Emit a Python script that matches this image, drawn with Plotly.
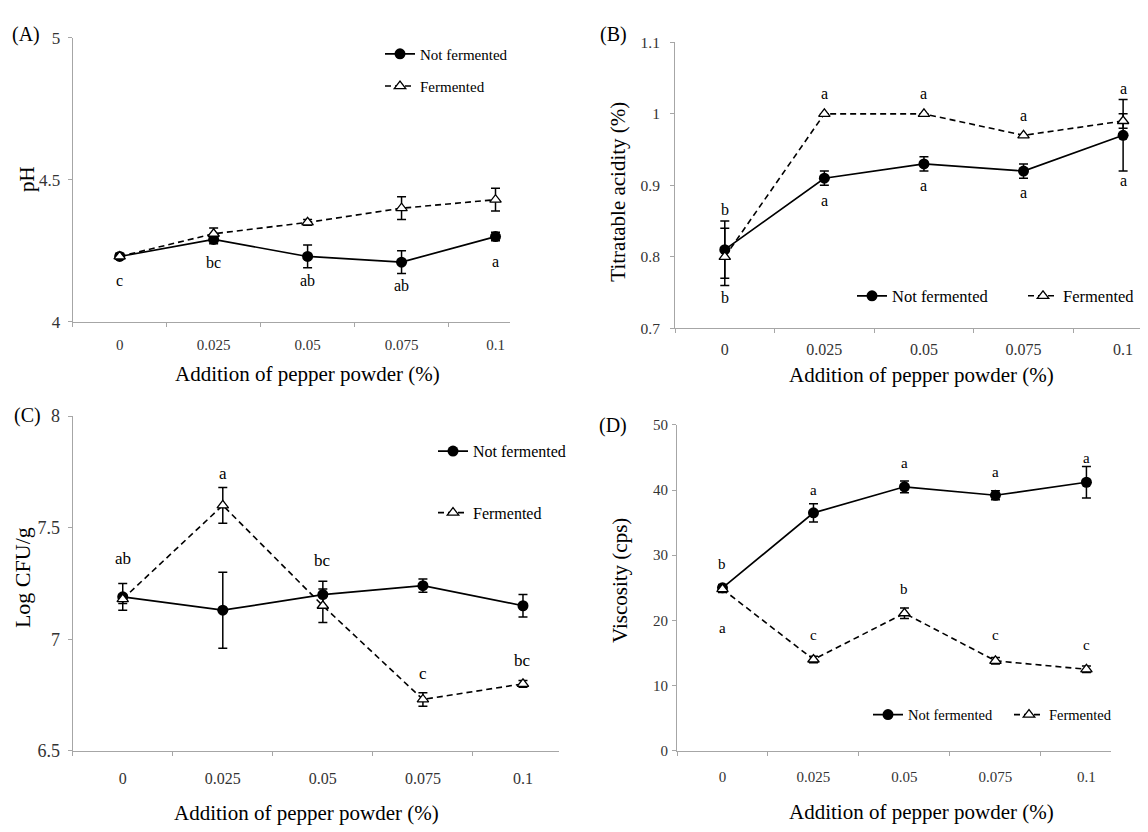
import plotly.graph_objects as go

# The page adds an 8px body margin, so the figure is placed 8px in from the corner.
OFF = 8
W, H = 1148 - OFF, 832 - OFF
FONT = "Liberation Serif"

categories = ["0", "0.025", "0.05", "0.075", "0.1"]

# (A) pH
ph_nf = [4.23, 4.29, 4.23, 4.21, 4.30]
ph_nf_err = [0.01, 0.015, 0.04, 0.04, 0.015]
ph_f = [4.23, 4.31, 4.35, 4.40, 4.43]
ph_f_err = [0.01, 0.02, 0.01, 0.04, 0.04]
ph_letters = ["c", "bc", "ab", "ab", "a"]
ph_letter_y = [4.144, 4.207, 4.144, 4.126, 4.213]

# (B) Titratable acidity
ta_nf = [0.81, 0.91, 0.93, 0.92, 0.97]
ta_nf_err = [0.04, 0.01, 0.01, 0.01, 0.05]
ta_f = [0.80, 1.00, 1.00, 0.97, 0.99]
ta_f_err = [0.04, 0.0, 0.0, 0.0, 0.01]
ta_letters_f = ["b", "a", "a", "a", "a"]
ta_letter_f_y = [0.866, 1.029, 1.029, 0.998, 1.035]
ta_letters_nf = ["b", "a", "a", "a", "a"]
ta_letter_nf_y = [0.743, 0.879, 0.900, 0.890, 0.907]

# (C) Log CFU/g
cfu_nf = [7.19, 7.13, 7.20, 7.24, 7.15]
cfu_nf_err = [0.06, 0.17, 0.06, 0.03, 0.05]
cfu_f = [7.18, 7.60, 7.15, 6.73, 6.80]
cfu_f_err = [0.02, 0.08, 0.075, 0.03, 0.015]
cfu_letters = ["ab", "a", "bc", "c", "bc"]
cfu_letter_y = [7.362, 7.741, 7.355, 6.845, 6.903]

# (D) Viscosity
visc_nf = [25.0, 36.5, 40.5, 39.2, 41.2]
visc_nf_err = [0.5, 1.4, 0.9, 0.7, 2.4]
visc_f = [24.8, 14.0, 21.1, 13.8, 12.5]
visc_f_err = [0.5, 0.5, 0.8, 0.5, 0.5]
visc_letters_nf = ["b", "a", "a", "a", "a"]
visc_letter_nf_y = [28.7, 40.0, 44.2, 42.7, 44.9]
visc_letters_f = ["a", "c", "b", "c", "c"]
visc_letter_f_y = [18.8, 17.7, 24.8, 17.7, 16.3]

x_title = "Addition of pepper powder (%)"


def px(x):
    return (x - OFF) / W


def py(y):
    return 1 - (y - OFF) / H


fig = go.Figure()

panels = [
    ("", ph_nf, ph_nf_err, ph_f, ph_f_err, ("legend", "legend2")),
    ("2", ta_nf, ta_nf_err, ta_f, ta_f_err, ("legend3", "legend4")),
    ("3", cfu_nf, cfu_nf_err, cfu_f, cfu_f_err, ("legend5", "legend6")),
    ("4", visc_nf, visc_nf_err, visc_f, visc_f_err, ("legend7", "legend8")),
]

for key, nf, nfe, f, fe, lg in panels:
    fig.add_trace(go.Scatter(
        x=categories, y=nf, mode="lines+markers", name="Not fermented",
        xaxis="x" + key, yaxis="y" + key, legend=lg[0], showlegend=True,
        line=dict(color="black", width=1.7),
        marker=dict(symbol="circle", size=11, color="black"),
        error_y=dict(type="data", array=nfe, color="black", thickness=1.5, width=4.5),
    ))
    fig.add_trace(go.Scatter(
        x=categories, y=f, mode="lines+markers", name="Fermented",
        xaxis="x" + key, yaxis="y" + key, legend=lg[1], showlegend=True,
        line=dict(color="black", width=1.6, dash="6px,4px"),
        marker=dict(symbol="triangle-up", size=10, color="white",
                    line=dict(color="black", width=1.3)),
        error_y=dict(type="data", array=fe, color="black", thickness=1.5, width=4.5),
    ))

axis_common = dict(showline=True, linecolor="#a6a6a6", linewidth=1, ticks="outside",
                   tickcolor="#a6a6a6", ticklen=4, showgrid=False, zeroline=False)


def xax(dom, rng, anchor, fs, standoff):
    return dict(axis_common, type="category", tickson="boundaries", domain=dom, range=rng,
                anchor=anchor, tickfont=dict(family=FONT, size=fs, color="#333"),
                ticklabelstandoff=standoff)


def yax(dom, rng, dtick, anchor, fs, standoff):
    return dict(axis_common, domain=dom, range=rng, dtick=dtick, anchor=anchor,
                tickfont=dict(family=FONT, size=fs, color="#333"), ticklabelstandoff=standoff)


layout = dict(
    width=W, height=H, margin=dict(l=0, r=0, t=0, b=0),
    paper_bgcolor="white", plot_bgcolor="white", showlegend=True,
    font=dict(family=FONT, color="black"),
    xaxis=xax([px(72.7), px(509.6)], [-0.5, 4.15], "y", 15, 9),
    yaxis=yax([py(319.3), py(28.4)], [4, 5], 0.5, "x", 17, 4),
    xaxis2=xax([px(675), px(1148)], [-0.5, 4.25], "y2", 16, 7),
    yaxis2=yax([py(326), py(33)], [0.7, 1.1], 0.1, "x2", 15.5, 7),
    xaxis3=xax([px(72.7), px(559)], [-0.5, 4.36], "y3", 16, 13),
    yaxis3=yax([py(759), py(416)], [6.5, 8], 0.5, "x3", 18, 4),
    xaxis4=xax([px(677), px(1111)], [-0.5, 4.27], "y4", 15, 12),
    yaxis4=yax([py(759), py(425)], [0, 50], 10, "x4", 15, 1),
)


def leg(x, y, fs):
    return dict(x=px(x), y=py(y), xanchor="left", yanchor="middle", xref="paper", yref="paper",
                bgcolor="rgba(0,0,0,0)", borderwidth=0,
                font=dict(family=FONT, size=fs, color="black"))


layout["legend"] = leg(380, 45, 15)
layout["legend2"] = leg(380, 78, 15)
layout["legend3"] = leg(852, 293, 16.5)
layout["legend4"] = leg(1023, 293, 16.5)
layout["legend5"] = leg(433, 452, 16)
layout["legend6"] = leg(433, 515, 16)
layout["legend7"] = leg(868, 722, 14.5)
layout["legend8"] = leg(1009, 722, 14.5)

fig.update_layout(**layout)

ann = []


def letters(texts, ys, key, fs=15):
    for i, (t, yv) in enumerate(zip(texts, ys)):
        ann.append(dict(x=i, y=yv, xref="x" + key, yref="y" + key, text=t, showarrow=False,
                        font=dict(family=FONT, size=fs, color="black")))


letters(ph_letters, ph_letter_y, "", 16)
letters(ta_letters_f, ta_letter_f_y, "2", 16)
letters(ta_letters_nf, ta_letter_nf_y, "2", 16)
letters(cfu_letters, cfu_letter_y, "3", 17)
letters(visc_letters_nf, visc_letter_nf_y, "4", 15)
letters(visc_letters_f, visc_letter_f_y, "4", 15)


def text(x, y, t, fs, angle=0):
    ann.append(dict(x=px(x), y=py(y), xref="paper", yref="paper", text=t, showarrow=False,
                    textangle=angle, xanchor="center", yanchor="middle",
                    font=dict(family=FONT, size=fs, color="black")))


# panel labels
text(26, 25, "(A)", 20)
text(613, 25, "(B)", 20)
text(27.5, 415, "(C)", 20)
text(613, 426, "(D)", 20)

# x titles
text(307.5, 373, x_title, 21)
text(921, 374, x_title, 21)
text(306, 823, x_title, 21)
text(921, 822, x_title, 21)

# y titles
text(27, 173, "pH", 21, -90)
text(618, 186, "Titratable acidity (%)", 21, -90)
text(22, 582, "Log CFU/g", 22, -90)
text(620, 585, "Viscosity (cps)", 21, -90)

fig.update_layout(annotations=ann)

fig.write_html("out.html")
